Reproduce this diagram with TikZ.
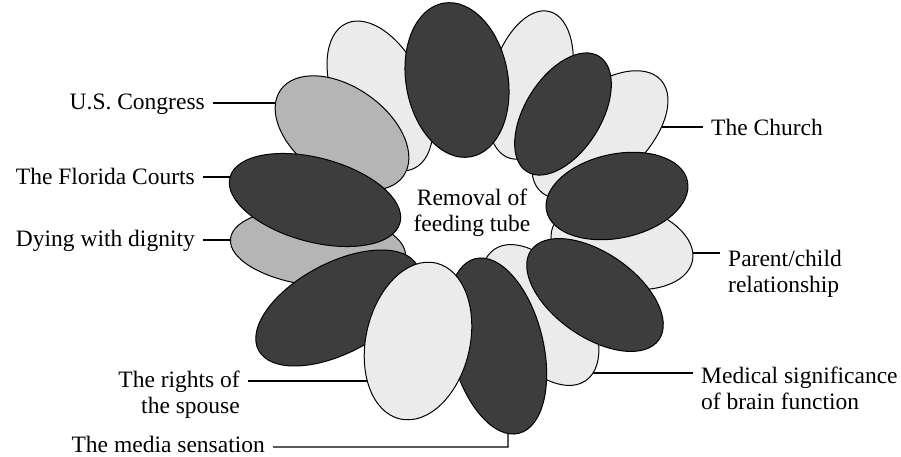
\documentclass[tikz,border=0pt]{standalone}
\usepackage{fontspec}
\setmainfont{Liberation Serif}
\usetikzlibrary{intersections}
\definecolor{pdark}{gray}{0.24}
\definecolor{pgray}{gray}{0.71}
\definecolor{plight}{gray}{0.92}
\tikzset{
  petal/.style={draw=black, line width=1pt},
  darkpetal/.style={petal, fill=pdark},
  graypetal/.style={petal, fill=pgray},
  lightpetal/.style={petal, fill=plight},
  lbl/.style={font=\fontsize{23.5}{26}\selectfont, inner xsep=8pt, inner ysep=0pt, text=black},
  conn/.style={draw=black, line width=1.1pt},
}
\begin{document}
\begin{tikzpicture}[x=1pt, y=-1pt]
\useasboundingbox (0,0) rectangle (901,457);
% petals, back to front
\path[lightpetal] (380,96) ellipse [x radius=80pt, y radius=45pt, rotate=115];
\path[lightpetal] (530,85) ellipse [x radius=76pt, y radius=40pt, rotate=75];
\path[lightpetal, name path=pChurch] (600,135) ellipse [x radius=82pt, y radius=45pt, rotate=42];
\path[lightpetal, name path=pParent] (622,246) ellipse [x radius=72pt, y radius=42pt, rotate=-12];
\path[lightpetal, name path=pMedical] (540,315) ellipse [x radius=80pt, y radius=45pt, rotate=-55];
\path[graypetal, name path=pDying] (318,248) ellipse [x radius=88pt, y radius=38pt, rotate=-6];
\path[graypetal, name path=pCongress] (342,133) ellipse [x radius=75pt, y radius=46pt, rotate=-35];
\path[darkpetal] (457,80) ellipse [x radius=78pt, y radius=51pt, rotate=100];
\path[darkpetal] (563,114) ellipse [x radius=68pt, y radius=38pt, rotate=58];
\path[darkpetal] (617,196) ellipse [x radius=72pt, y radius=42pt, rotate=12];
\path[darkpetal] (595,295) ellipse [x radius=78pt, y radius=42pt, rotate=-35];
\path[darkpetal, name path=pMedia] (497,346) ellipse [x radius=90pt, y radius=46pt, rotate=-76];
\path[darkpetal] (338,308) ellipse [x radius=90pt, y radius=45pt, rotate=28];
\path[lightpetal, name path=pSpouse] (418,341) ellipse [x radius=80pt, y radius=52pt, rotate=77];
\path[darkpetal, name path=pFlorida] (315,200) ellipse [x radius=88pt, y radius=42pt, rotate=-15];

% centre text
\node[lbl, anchor=north, align=center] (hub) at (472,189) {Removal of\\feeding tube};

% labels
\node[lbl, anchor=base east] (congress) at (213,110) {U.S. Congress};
\node[lbl, anchor=base east] (florida) at (203,184) {The Florida Courts};
\node[lbl, anchor=base east] (dying) at (203,246) {Dying with dignity};
\node[lbl, anchor=north east, align=right] (spouse) at (248,371) {The rights of\\the spouse};
\node[lbl, anchor=base east] (media) at (273,452) {The media sensation};
\node[lbl, anchor=base west] (church) at (703,136) {The Church};
\node[lbl, anchor=north west, align=left] (parent) at (720,250) {Parent/child\\relationship};
\node[lbl, anchor=north west, align=left] (medical) at (693,367) {Medical significance\\of brain function};

% connector end points on the petals
\path[name path=hCongress] (congress.east |- 0,103) -- ++(140,0);
\path[name intersections={of=hCongress and pCongress, sort by=hCongress, by={cCongress}}];
\path[name path=hFlorida] (florida.east |- 0,177) -- ++(140,0);
\path[name intersections={of=hFlorida and pFlorida, sort by=hFlorida, by={cFlorida}}];
\path[name path=hDying] (dying.east |- 0,240) -- ++(140,0);
\path[name intersections={of=hDying and pDying, sort by=hDying, by={cDying}}];
\path[name path=hSpouse] (spouse.east |- 0,381) -- ++(200,0);
\path[name intersections={of=hSpouse and pSpouse, sort by=hSpouse, by={cSpouse}}];
\coordinate (mk) at (508,447);
\path[name path=hMedia] (mk) -- ++(0,-80);
\path[name intersections={of=hMedia and pMedia, sort by=hMedia, by={cMedia}}];
\path[name path=hChurch] (church.west |- 0,127) -- ++(-140,0);
\path[name intersections={of=hChurch and pChurch, sort by=hChurch, by={cChurch}}];
\path[name path=hParent] (parent.west |- 0,253) -- ++(-140,0);
\path[name intersections={of=hParent and pParent, sort by=hParent, by={cParent}}];
\path[name path=hMedical] (medical.west |- 0,373) -- ++(-160,0);
\path[name intersections={of=hMedical and pMedical, sort by=hMedical, by={cMedical}}];

% connectors
\draw[conn] (congress.east |- cCongress) -- (cCongress);
\draw[conn] (florida.east |- cFlorida) -- (cFlorida);
\draw[conn] (dying.east |- cDying) -- (cDying);
\draw[conn] (spouse.east |- cSpouse) -- (cSpouse);
\draw[conn] (media.east |- mk) -- (mk) -- (cMedia);
\draw[conn] (church.west |- cChurch) -- (cChurch);
\draw[conn] (parent.west |- cParent) -- (cParent);
\draw[conn] (medical.west |- cMedical) -- (cMedical);
\end{tikzpicture}
\end{document}
